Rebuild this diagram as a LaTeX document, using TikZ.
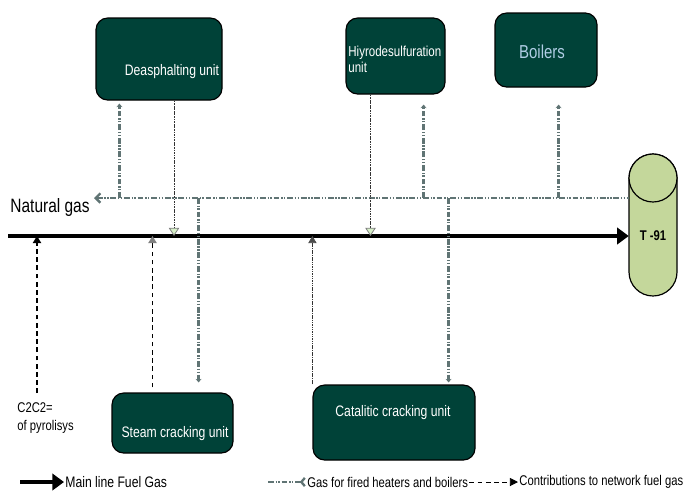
\documentclass[tikz,border=0pt]{standalone}
\usepackage{fontspec}
\setmainfont{Liberation Sans}[FakeStretch=0.8]
\usetikzlibrary{arrows.meta, positioning, calc}
\definecolor{unitgreen}{RGB}{0, 66, 56}
\definecolor{tankgreen}{RGB}{196, 215, 155}
\definecolor{heatgray}{RGB}{96, 116, 116}
\definecolor{tipgreen}{RGB}{215, 240, 200}
\definecolor{boilerblue}{RGB}{175, 205, 228}
\newlength{\unitpx}
\setlength{\unitpx}{0.03cm}

\begin{document}
\begin{tikzpicture}[x=0.03cm, y=-0.03cm,
  unitbox/.style={draw=black, line width=1pt, fill=unitgreen, rounded corners=10pt, inner sep=0pt},
  unittext/.style={text=white, font=\fontsize{13}{13.6}\selectfont, inner sep=1pt},
  plaintext/.style={font=\fontsize{12}{15.5}\selectfont, inner sep=1pt},
  mainline/.style={line width=3pt, -{Triangle[length=10pt, width=14pt]}},
  heatline/.style={draw=heatgray, line width=2pt, dash pattern=on 5pt off 1.5pt on 1.2pt off 1.2pt on 1.2pt off 1.5pt},
  heattip/.style={-{Stealth[length=3pt, width=5pt]}},
  contrib/.style={line width=1.2pt, dash pattern=on 4pt off 3pt},
  feedline/.style={draw=black!80, line width=0.7pt, dash pattern=on 1.5pt off 0.7pt},
  greentip/.style={-{Triangle[length=7pt, width=9pt, fill=tipgreen, color=gray]}},
  tankline/.style={draw=black, line width=1pt, fill=tankgreen}]

  \useasboundingbox (0,0) rectangle (683,492);

  % units on top
  \node[unitbox, minimum width=126\unitpx, minimum height=82\unitpx] (deasph) at (159,59) {};
  \node[unittext] (deasphtext) at (172,72) {Deasphalting unit};
  \node[unitbox, minimum width=99\unitpx, minimum height=76\unitpx] (hds) at (395.5,56) {};
  \node[unittext, font=\fontsize{12.3}{13.6}\selectfont, align=left, anchor=west] (hdstext) at (347,59) {Hiyrodesulfuration\\unit};
  \node[unitbox, minimum width=102\unitpx, minimum height=74\unitpx] (boil) at (546,50) {};
  \node[unittext, text=boilerblue, font=\fontsize{16}{18}\selectfont] (boiltext) at (542,52) {Boilers};

  % units below
  \node[unitbox, minimum width=121\unitpx, minimum height=60\unitpx] (steam) at (172.5,423) {};
  \node[unittext] (steamtext) at (175,434) {Steam cracking unit};
  \node[unitbox, minimum width=162\unitpx, minimum height=75\unitpx] (cat) at (394,422.5) {};
  \node[unittext] (cattext) at (393,413) {Catalitic cracking unit};

  \node[plaintext, align=left, anchor=west] (c2c2) at (16,418) {C2C2=\\of pyrolisys};
  \node[font=\fontsize{16.5}{18}\selectfont, inner sep=1pt] (natgas) at (50,207) {Natural gas};

  % tank
  \node[minimum width=48\unitpx, minimum height=142\unitpx, inner sep=0pt] (tank) at (653,225) {};
  \draw[tankline] (629,178) -- (629,272) arc[start angle=180, end angle=360, radius=24\unitpx]
    -- (677,178) arc[start angle=0, end angle=180, radius=24\unitpx] -- cycle;
  \draw[tankline] (653,178) circle[radius=24\unitpx];
  \node[font=\bfseries\fontsize{12}{14}\selectfont] (tanklabel) at (653,236) {T -91};

  % main line and fuel gas header
  \coordinate (mainstart) at (8,236);
  \coordinate (hdr) at (94,198);
  \draw[mainline] (mainstart) -- (mainstart -| tank.west);
  \draw[heatline, {Straight Barb[length=4pt, width=8pt]}-] (hdr) -- (hdr -| tank.west);

  % gas to fired heaters and boilers
  \draw[heatline, heattip] ([xshift=24\unitpx]deasph.south west |- hdr) -- ([xshift=24\unitpx, yshift=-3\unitpx]deasph.south west);
  \draw[heatline, heattip] ([xshift=-22\unitpx]hds.south east |- hdr) -- ([xshift=-22\unitpx, yshift=-10\unitpx]hds.south east);
  \draw[heatline, heattip] ([xshift=-39\unitpx]boil.south east |- hdr) -- ([xshift=-39\unitpx, yshift=-17\unitpx]boil.south east);
  \draw[heatline, heattip] ([xshift=-35\unitpx]steam.north east |- hdr) -- ([xshift=-35\unitpx, yshift=10\unitpx]steam.north east);
  \draw[heatline, heattip] ([xshift=-27\unitpx]cat.north east |- hdr) -- ([xshift=-27\unitpx, yshift=2\unitpx]cat.north east);

  % contributions to the main line
  \draw[feedline, greentip] ([xshift=15\unitpx]deasph.south) -- ([xshift=15\unitpx]deasph.south |- mainstart);
  \draw[feedline, greentip] ([xshift=-25\unitpx]hds.south) -- ([xshift=-25\unitpx]hds.south |- mainstart);
  \draw[contrib, -{Triangle[length=6pt, width=7pt]}] ([xshift=21\unitpx, yshift=8\unitpx]c2c2.north west) -- ([xshift=21\unitpx]c2c2.north west |- mainstart);
  \draw[contrib, -{Triangle[length=6pt, width=7pt, fill=gray, color=gray]}] ([xshift=-20\unitpx, yshift=5\unitpx]steam.north) -- ([xshift=-20\unitpx]steam.north |- mainstart);
  \draw[draw=black!80, line width=0.6pt, dash pattern=on 1pt off 0.5pt, -{Triangle[length=6pt, width=7pt, fill=black!70, color=black!70]}] (cat.north west) -- (cat.north west |- mainstart);

  % legend
  \coordinate (lgmainstart) at (20,482);
  \node[plaintext, font=\fontsize{13}{16}\selectfont, anchor=west] (lgmain) at (64,482) {Main line Fuel Gas};
  \draw[mainline] (lgmainstart) -- (lgmain.west);
  \coordinate (lgheatstart) at (268,482);
  \node[plaintext, anchor=west] (lgheat) at (306,482) {Gas for fired heaters and boilers};
  \draw[heatline, -{Straight Barb[reversed, length=3pt, width=7pt]}] (lgheatstart) -- (lgheat.west);
  \node[plaintext, anchor=west] (lgcontrib) at (518,482) {Contributions to network fuel gas};
  \draw[contrib, line width=0.8pt, -{Triangle[length=7pt, width=7pt]}] (lgheat.east) -- (lgcontrib.west);
\end{tikzpicture}
\end{document}
